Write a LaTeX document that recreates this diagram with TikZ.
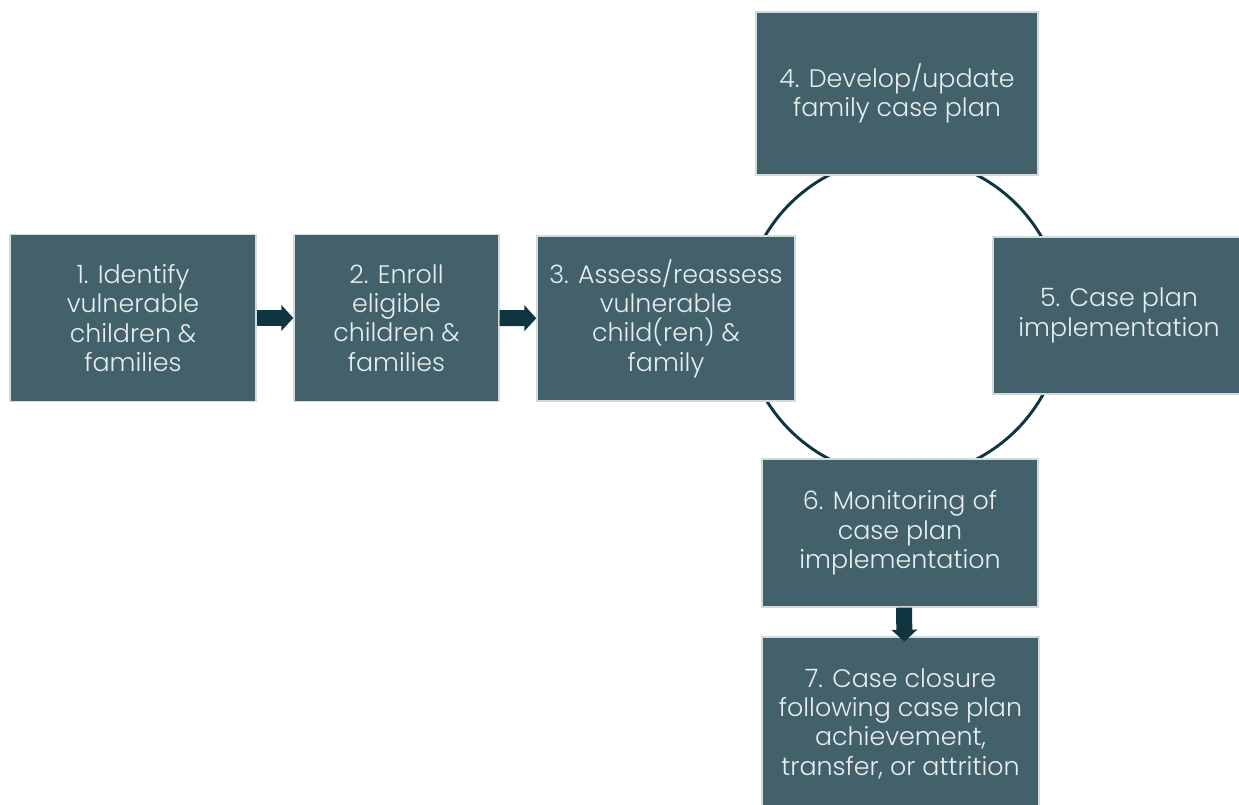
\documentclass[tikz,border=0pt]{standalone}
\usepackage{fontspec}
\setmainfont{Poppins Light}
\usetikzlibrary{arrows.meta}
\definecolor{boxfill}{HTML}{42616A}
\definecolor{boxline}{HTML}{D3DADB}
\definecolor{darkteal}{HTML}{0F3540}
\definecolor{boxtext}{HTML}{E8EEEE}

\begin{document}
\begin{tikzpicture}[x = 0.75pt, y = -0.75pt,
                      stage/.style = {rectangle, draw = boxline, line width = 1pt, fill = boxfill,
                                      text = boxtext, align = center, inner sep = 2pt,
                                      font = \fontsize{19}{22}\selectfont},
                      block/.style = {draw = darkteal, line width = 12pt,
                                      -{Triangle[length = 9pt, width = 19pt]}},
                      ring/.style = {draw = darkteal, line width = 2.2pt}]
    \useasboundingbox (0, 0) rectangle (1239, 805);

    \draw [ring] (903, 317) circle [radius = 120pt];

    \node [stage, minimum width = 184.5pt, minimum height = 125.25pt] (s1) at (133, 318)
          {1. Identify\\vulnerable\\children \&\\families};
    \node [stage, minimum width = 153.75pt, minimum height = 125.25pt] (s2) at (396.5, 318)
          {2. Enroll\\eligible\\children \&\\families};
    \node [stage, minimum width = 193.5pt, minimum height = 123.75pt] (s3) at (666, 318.5)
          {3. Assess/reassess\\vulnerable\\child(ren) \&\\family};
    \node [stage, minimum width = 211.5pt, minimum height = 122.25pt] (s4) at (897, 93.5)
          {4. Develop/update\\family case plan};
    \node [stage, minimum width = 189pt, minimum height = 117.75pt] (s5) at (1119, 315.5)
          {5. Case plan\\implementation};
    \node [stage, minimum width = 207pt, minimum height = 111pt] (s6) at (900, 533)
          {6. Monitoring of\\case plan\\implementation};
    \node [stage, minimum width = 207.75pt, minimum height = 129.75pt] (s7) at (900.5, 723.5)
          {7. Case closure\\following case plan\\achievement,\\transfer, or attrition};

    \draw [block] (s1) -- (s2);
    \draw [block] (s2) -- (s3);
    \draw [block] ([xshift = 3pt]s6.south) -- ([xshift = 3pt, yshift = -4pt]s7.north);
\end{tikzpicture}
\end{document}
